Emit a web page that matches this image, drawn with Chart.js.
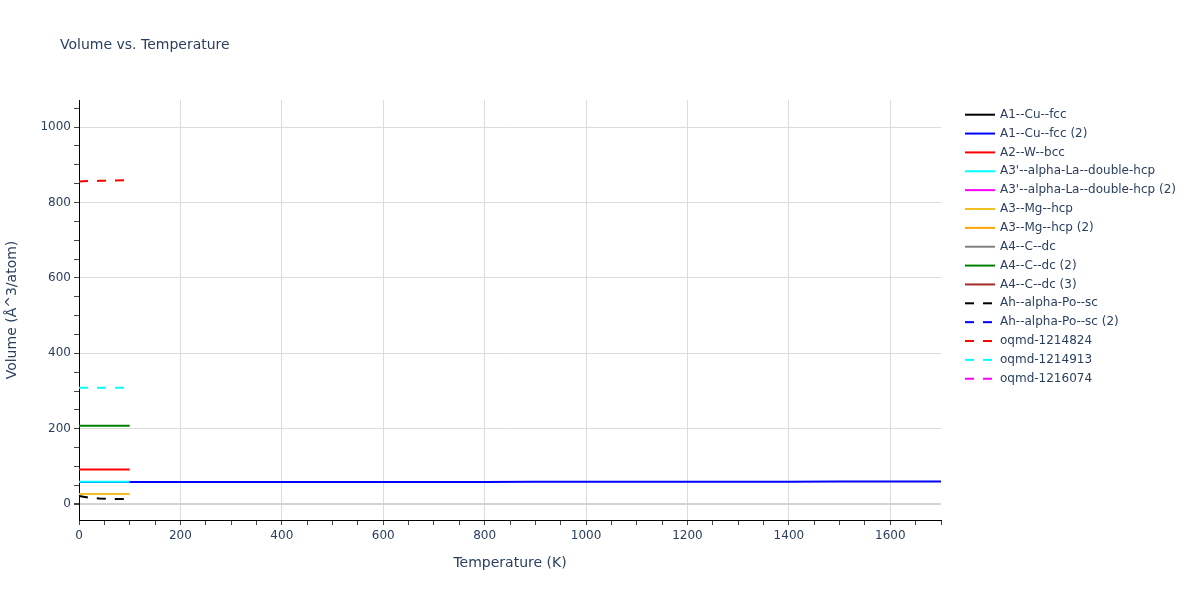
<!DOCTYPE html>
<html>
<head>
<meta charset="utf-8">
<script src="https://cdn.jsdelivr.net/npm/chart.js@4.4.1/dist/chart.umd.min.js"></script>
<style>
html,body{margin:0;padding:0;background:#fff;}
#wrap{width:1200px;height:600px;position:relative;}
</style>
</head>
<body>
<div id="wrap"><canvas id="c" width="1200" height="600"></canvas></div>
<script>
// ---- data ----
const seriesNames = [
  "A1--Cu--fcc", "A1--Cu--fcc (2)", "A2--W--bcc", "A3'--alpha-La--double-hcp",
  "A3'--alpha-La--double-hcp (2)", "A3--Mg--hcp", "A3--Mg--hcp (2)", "A4--C--dc",
  "A4--C--dc (2)", "A4--C--dc (3)", "Ah--alpha-Po--sc", "Ah--alpha-Po--sc (2)",
  "oqmd-1214824", "oqmd-1214913", "oqmd-1216074"
];
const seriesColors = [
  "#000000", "#0000ff", "#ff0000", "#00ffff", "#ff00ff", "#f0c020", "#ffa500",
  "#808080", "#008000", "#a52a2a", "#000000", "#0000ff", "#ff0000", "#00ffff", "#ff00ff"
];
const seriesDashed = [false,false,false,false,false,false,false,false,false,false,true,true,true,true,true];

const tempsShort = [0, 25, 50, 75, 100];
const tempsLong = [0, 100, 200, 300, 400, 500, 600, 700, 800, 900, 1000, 1100, 1200, 1300, 1400, 1500, 1600, 1700];
const tempsDash = [0, 20, 40, 60, 90];

const cuFcc = [59, 59, 59, 59, 59];
const cuFcc2 = [59, 59, 59, 59, 59, 59, 59, 59, 59, 59.2, 59.3, 59.4, 59.5, 59.6, 59.7, 59.8, 59.9, 60];
const wBcc = [92, 92, 92, 92, 92];
const laDhcp = [59.5, 59.5, 59.5, 59.5, 59.5];
const laDhcp2 = [];
const mgHcp = [27, 27, 27, 27, 27];
const mgHcp2 = [];
const cDc = [];
const cDc2 = [208, 208, 208, 208, 208];
const cDc3 = [];
const poSc = [22, 17, 15, 14, 14];
const poSc2 = [];
const oqmd1214824 = [856, 857, 857.5, 858, 859];
const oqmd1214913 = [309, 309, 309, 309, 309];
const oqmd1216074 = [];

const seriesX = [tempsShort, tempsLong, tempsShort, tempsShort, tempsShort, tempsShort, tempsShort, tempsShort,
  tempsShort, tempsShort, tempsDash, tempsDash, tempsDash, tempsDash, tempsDash];
const seriesY = [cuFcc, cuFcc2, wBcc, laDhcp, laDhcp2, mgHcp, mgHcp2, cDc, cDc2, cDc3, poSc, poSc2,
  oqmd1214824, oqmd1214913, oqmd1216074];

const xTickLabels = ["0","200","400","600","800","1000","1200","1400","1600"];
const yTickLabels = ["0","200","400","600","800","1000"];

// ---- chart ----
const FONT = "'DejaVu Sans', Verdana, sans-serif";
const TXT = "#2a3f5f";

const datasets = seriesNames.map((name, i) => ({
  label: name,
  data: seriesX[i].map((x, k) => ({x: x, y: seriesY[i][k]})).filter(p => p.y !== undefined),
  borderColor: seriesColors[i],
  backgroundColor: seriesColors[i],
  borderWidth: 2,
  borderDash: seriesDashed[i] ? [9, 9] : [],
  pointRadius: 0,
  fill: false,
  tension: 0,
  order: -i
}));

const overlay = {
  id: 'overlay',
  afterDraw(chart) {
    const ctx = chart.ctx;
    const ca = chart.chartArea;
    ctx.save();
    ctx.fillStyle = TXT;
    ctx.textBaseline = 'middle';
    ctx.font = "14px " + FONT;
    ctx.textAlign = 'left';
    ctx.fillText("Volume vs. Temperature", 60, 45);
    ctx.textAlign = 'center';
    ctx.fillText("Temperature (K)", (ca.left + ca.right) / 2, 563);
    ctx.save();
    ctx.translate(12, (ca.top + ca.bottom) / 2);
    ctx.rotate(-Math.PI / 2);
    ctx.fillText("Volume (Å^3/atom)", 0, 0);
    ctx.restore();
    // legend
    ctx.font = "12px " + FONT;
    ctx.textAlign = 'left';
    chart.data.datasets.forEach((ds, i) => {
      const y = 114.7 + i * 18.86;
      ctx.beginPath();
      ctx.strokeStyle = ds.borderColor;
      ctx.lineWidth = 2;
      ctx.setLineDash(ds.borderDash && ds.borderDash.length ? [9, 9] : []);
      ctx.moveTo(965, y);
      ctx.lineTo(995, y);
      ctx.stroke();
      ctx.setLineDash([]);
      ctx.fillStyle = TXT;
      ctx.fillText(ds.label, 1000, y);
    });
    ctx.restore();
  }
};

new Chart(document.getElementById('c'), {
  type: 'line',
  data: { datasets: datasets },
  plugins: [overlay],
  options: {
    responsive: false,
    animation: false,
    layout: { padding: { top: 100, right: 259, left: 0, bottom: 0 } },
    plugins: { legend: { display: false }, tooltip: { enabled: false }, title: { display: false } },
    scales: {
      x: {
        type: 'linear',
        min: 0, max: 1700,
        afterFit(s) { s.height = 80; },
        border: { display: true, color: '#000', width: 1 },
        grid: {
          color: c => (c.tick && c.tick.value % 200 === 0) ? '#dcdcdc' : 'rgba(0,0,0,0)',
          lineWidth: 1,
          tickLength: 5,
          tickColor: '#444',
          drawTicks: true
        },
        ticks: {
          stepSize: 50,
          includeBounds: false,
          autoSkip: false,
          maxRotation: 0,
          padding: 4,
          color: TXT,
          font: { family: FONT, size: 12 },
          callback: v => xTickLabels.includes(String(v)) ? String(v) : ''
        }
      },
      y: {
        type: 'linear',
        min: -42, max: 1072,
        afterFit(s) { s.width = 79; },
        border: { display: true, color: '#000', width: 1 },
        grid: {
          color: c => {
            if (!c.tick) return 'rgba(0,0,0,0)';
            if (c.tick.value === 0) return '#d4d4d4';
            return c.tick.value % 200 === 0 ? '#dcdcdc' : 'rgba(0,0,0,0)';
          },
          lineWidth: c => (c.tick && c.tick.value === 0) ? 2 : 1,
          tickLength: 5,
          tickColor: '#444',
          drawTicks: true
        },
        ticks: {
          stepSize: 50,
          includeBounds: false,
          autoSkip: false,
          padding: 3,
          color: TXT,
          font: { family: FONT, size: 12 },
          callback: v => yTickLabels.includes(String(v)) ? String(v) : ''
        }
      }
    }
  }
});
</script>
</body>
</html>
